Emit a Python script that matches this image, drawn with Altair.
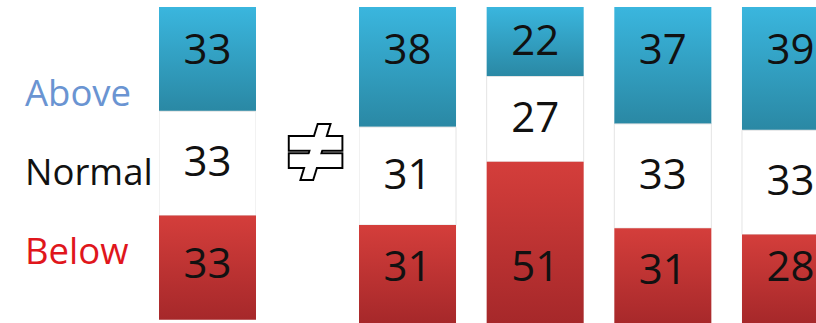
import altair as alt
import pandas as pd

# ---- data ----
bars = ["Climatology", "Outlook A", "Outlook B", "Outlook C", "Outlook D"]
above = [33, 38, 22, 37, 39]
normal = [33, 31, 27, 33, 33]
below = [33, 31, 51, 31, 28]
cats = ["Above", "Normal", "Below"]
cat_colors = ["#6a94d2", "#111111", "#e0161c"]
symbol_parts = ["=", "/"]

rows = []
for i, b in enumerate(bars):
    for o, (c, v) in enumerate(zip(cats, [above[i], normal[i], below[i]])):
        rows.append({"bar": b, "cat": c, "value": v, "ord": o})
df = pd.DataFrame(rows)

H = 316
grad_blue = alt.LinearGradient(
    gradient="linear",
    stops=[alt.GradientStop(offset=0, color="#3ab6de"),
           alt.GradientStop(offset=1, color="#2a88a4")],
    x1=0, x2=0, y1=0, y2=1)
grad_red = alt.LinearGradient(
    gradient="linear",
    stops=[alt.GradientStop(offset=0, color="#d43e3b"),
           alt.GradientStop(offset=1, color="#a6282a")],
    x1=0, x2=0, y1=0, y2=1)

yscale = alt.Scale(domain=[0, 100], reverse=True, nice=False, zero=False)

label_expr = ("datum.cat == 'Above' ? datum.y0 + min((datum.y1 - datum.y0) / 2, 13.8)"
              " : datum.cat == 'Below' ? datum.y1 - 17.5"
              " : (datum.y0 + datum.y1) / 2")


def bar_panel(names, width, xscale):
    base = alt.Chart(df).transform_filter(
        alt.FieldOneOfPredicate(field="bar", oneOf=names)
    ).transform_stack(
        stack="value", groupby=["bar"], sort=[alt.SortField("ord", order="ascending")],
        as_=["y0", "y1"]
    )
    x = alt.X("bar:N", sort=names, scale=xscale, axis=None)
    fills = {"Above": grad_blue, "Normal": "#ffffff", "Below": grad_red}
    layers = []
    for c in cats:
        kw = dict(fill=fills[c], clip=True)
        if c == "Normal":
            kw.update(stroke="#e4e4e4", strokeWidth=1)
        layers.append(
            base.transform_filter(alt.datum.cat == c).mark_bar(**kw).encode(
                x=x,
                y=alt.Y("y0:Q", scale=yscale, axis=None),
                y2="y1:Q",
            )
        )
    text = base.transform_calculate(ly=label_expr).mark_text(
        font="Open Sans", fontSize=42, color="#111111", baseline="middle", clip=True
    ).encode(
        x=x,
        y=alt.Y("ly:Q", scale=yscale, axis=None),
        text="value:Q",
    )
    return alt.layer(*layers, text).properties(width=width, height=H)


# labels panel
labels = alt.Chart(pd.DataFrame({"cat": cats, "anchor": ["a"] * 3})).mark_text(
    font="Open Sans", fontSize=36.5, align="left", baseline="middle"
).encode(
    x=alt.X("anchor:N", scale=alt.Scale(type="point", padding=0, align=0), axis=None),
    y=alt.Y("cat:N", sort=cats, scale=alt.Scale(type="point", padding=1.052, align=0.556), axis=None),
    text="cat:N",
    color=alt.Color("cat:N", scale=alt.Scale(domain=cats, range=cat_colors), legend=None),
).properties(width=134, height=H)

p1 = bar_panel(bars[:1], 97, alt.Scale(paddingInner=0, paddingOuter=0))

# hollow "not equal" sign: union of "=" and "/" drawn as outline + white fill
eq = alt.Chart(pd.DataFrame({"s": [symbol_parts[0]]})).encode(text="s:N")
sl = alt.Chart(pd.DataFrame({"s": [symbol_parts[1]]})).encode(text="s:N")
common = dict(font="DejaVu Sans", fontWeight="bold", strokeJoin="miter")
eq_out = eq.mark_text(fontSize=76, fill="black", stroke="black", strokeWidth=8, dx=8, dy=-12, **common)
sl_out = sl.mark_text(fontSize=60, fill="black", stroke="black", strokeWidth=8, dx=8, dy=-12, **common)
eq_in = eq.mark_text(fontSize=76, fill="white", stroke="white", strokeWidth=4, dx=8, dy=-12, **common)
sl_in = sl.mark_text(fontSize=60, fill="white", stroke="white", strokeWidth=4, dx=8, dy=-12, **common)
sym = alt.layer(eq_out, sl_out, eq_in, sl_in).properties(width=103, height=H)

p3 = bar_panel(bars[1:], 457, alt.Scale(paddingInner=0.24, paddingOuter=0, align=0, range=[0, 480]))

chart = alt.hconcat(labels, p1, sym, p3, spacing=0).properties(
    padding={"left": 25, "top": 7, "right": 0, "bottom": 0},
    background="white",
).configure_view(stroke=None)

chart.save("out.html", embed_options={"renderer": "svg", "actions": False})
